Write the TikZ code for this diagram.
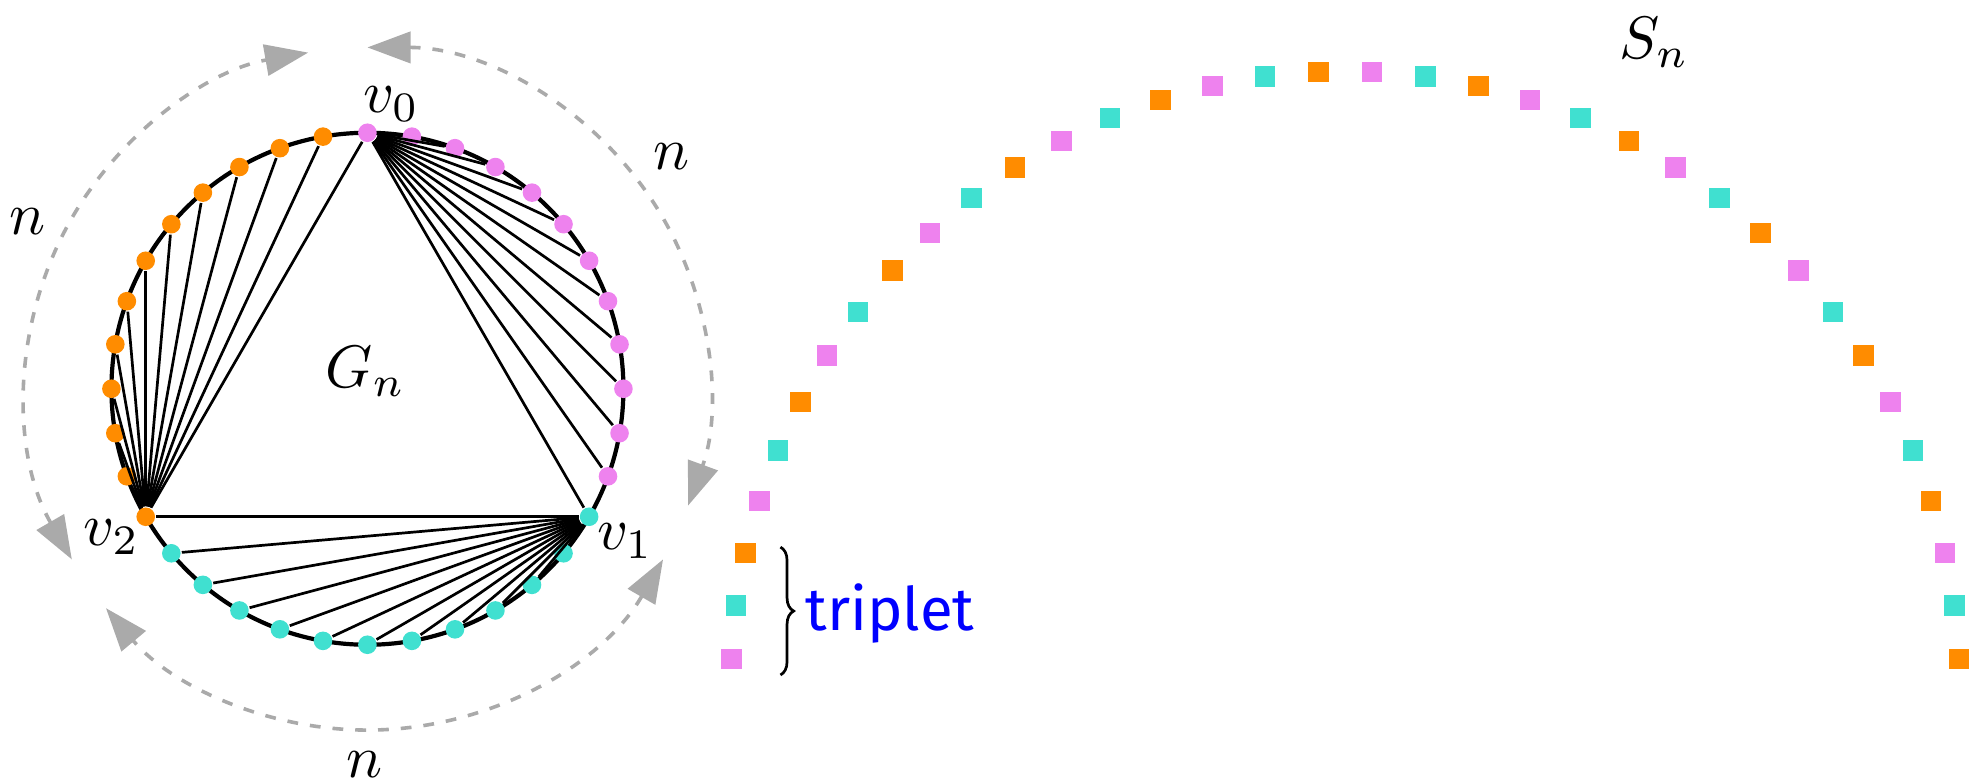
\documentclass[tikz,border=0pt]{standalone}
\usepackage{fontspec}
\newfontfamily\tripletfont{Fira Sans}
\usetikzlibrary{arrows.meta,decorations.pathreplacing}

\definecolor{vpink}{HTML}{EE82EE}
\definecolor{vturq}{HTML}{40E0D0}
\definecolor{vorange}{HTML}{FF8C00}
\definecolor{arcgray}{HTML}{AAAAAA}
\colorlet{grp0}{vpink}
\colorlet{grp1}{vturq}
\colorlet{grp2}{vorange}

\tikzset{
    vdot/.style={circle, fill=#1, inner sep=0pt, minimum size=3.1pt},
    sqcell/.style={rectangle, fill=#1, inner sep=0pt, minimum size=3.4pt},
    chord/.style={line width=0.45pt},
    gaparc/.style={arcgray, line width=0.6pt, dash pattern=on 1.8pt off 2pt,
      {Triangle[length=7.2pt,width=5.2pt]}-{Triangle[length=7.2pt,width=5.2pt]}}
  }

\begin{document}
\begin{tikzpicture}
    \useasboundingbox (-2.153,-2.304) rectangle (9.431,2.278);

    % the graph G_n
    \draw[line width=0.7pt] (0,0) circle (1.5);
    \foreach \k in {0,...,35} {
      \pgfmathtruncatemacro{\g}{\k/12}
      \node[vdot=grp\g] (p\k) at ({90-10*\k}:1.5) {};
    }
    \foreach \i in {0,1,2} {
      \foreach \j in {1,...,12} {
        \pgfmathtruncatemacro{\a}{12*\i}
        \pgfmathtruncatemacro{\b}{mod(12*\i+\j,36)}
        \draw[chord] (p\a) -- (p\b);
      }
    }

    \foreach \s in {90,-30,210} {
      \draw[gaparc] (\s:2) arc[start angle=\s, end angle=\s-110, radius=2];
    }

    \node (lv0) at (0.14,1.67) {$v_0$};
    \node (lv1) at (1.51,-0.89) {$v_1$};
    \node (lv2) at (-1.50,-0.87) {$v_2$};
    \node (lg) at (-0.01,0.10) {$G_n$};
    \node (nr) at (1.78,1.36) {$n$};
    \node (nl) at (-1.99,0.98) {$n$};
    \node (nb) at (-0.02,-2.20) {$n$};

    % the sequence S_n
    \begin{scope}[shift={(5.73,-1.74)}]
      \foreach \k in {0,...,35} {
        \pgfmathtruncatemacro{\c}{mod(\k,3)}
        \node[sqcell=grp\c] (s\k) at ({177.5-5*\k}:3.6) {};
      }
    \end{scope}
    \node (ls) at (7.54,2.03) {$S_n$};

    \coordinate (bt) at (2.42,-0.928);
    \coordinate (bb) at (2.42,-1.677);
    \draw[line width=0.45pt, decorate, decoration={brace, amplitude=2.2pt}] (bt) -- (bb);
    \node[anchor=base west, inner sep=0pt, text=blue, font=\tripletfont] (trip) at (2.56,-1.414) {triplet};

  \end{tikzpicture}
\end{document}
